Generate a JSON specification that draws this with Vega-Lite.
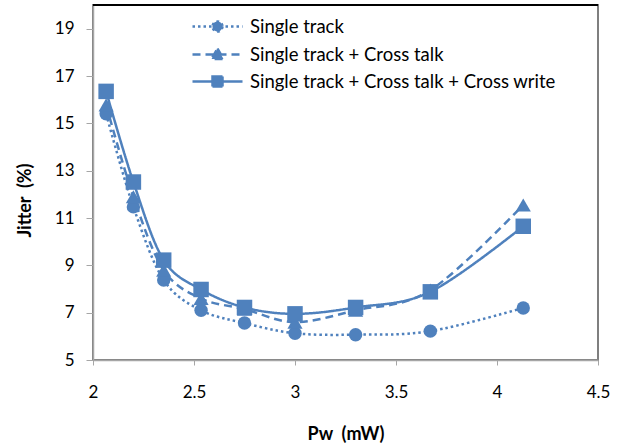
{
  "$schema": "https://vega.github.io/schema/vega-lite/v6.json",
  "width": 505,
  "height": 355,
  "autosize": {"type": "none"},
  "padding": {"left": 93, "top": 5, "right": 21, "bottom": 88},
  "background": "white",
  "config": {
    "font": "Lato",
    "view": {"stroke": "#7f7f7f", "strokeWidth": 2},
    "axis": {
      "grid": false,
      "domainColor": "#a6a6a6",
      "domainWidth": 1.5,
      "tickColor": "#a6a6a6",
      "labelColor": "#000000",
      "titleColor": "#000000",
      "labelFontSize": 17,
      "titleFontSize": 18,
      "titleFontWeight": "bold",
      "labelFlush": false,
      "labelOverlap": false
    }
  },
  "data": {
    "values": [
      {"Pw": 2.065, "Jitter": 15.4, "series": "Single track"},
      {"Pw": 2.2, "Jitter": 11.47, "series": "Single track"},
      {"Pw": 2.35, "Jitter": 8.38, "series": "Single track"},
      {"Pw": 2.535, "Jitter": 7.1, "series": "Single track"},
      {"Pw": 2.75, "Jitter": 6.56, "series": "Single track"},
      {"Pw": 3.0, "Jitter": 6.13, "series": "Single track"},
      {"Pw": 3.3, "Jitter": 6.07, "series": "Single track"},
      {"Pw": 3.67, "Jitter": 6.22, "series": "Single track"},
      {"Pw": 4.13, "Jitter": 7.2, "series": "Single track"},
      {"Pw": 2.065, "Jitter": 15.78, "series": "Single track + Cross talk"},
      {"Pw": 2.2, "Jitter": 11.9, "series": "Single track + Cross talk"},
      {"Pw": 2.35, "Jitter": 8.8, "series": "Single track + Cross talk"},
      {"Pw": 2.535, "Jitter": 7.6, "series": "Single track + Cross talk"},
      {"Pw": 2.75, "Jitter": 7.15, "series": "Single track + Cross talk"},
      {"Pw": 3.0, "Jitter": 6.6, "series": "Single track + Cross talk"},
      {"Pw": 3.3, "Jitter": 7.1, "series": "Single track + Cross talk"},
      {"Pw": 3.67, "Jitter": 7.95, "series": "Single track + Cross talk"},
      {"Pw": 4.13, "Jitter": 11.55, "series": "Single track + Cross talk"},
      {"Pw": 2.065, "Jitter": 16.35, "series": "Single track + Cross talk + Cross write"},
      {"Pw": 2.2, "Jitter": 12.52, "series": "Single track + Cross talk + Cross write"},
      {"Pw": 2.35, "Jitter": 9.22, "series": "Single track + Cross talk + Cross write"},
      {"Pw": 2.535, "Jitter": 7.98, "series": "Single track + Cross talk + Cross write"},
      {"Pw": 2.75, "Jitter": 7.22, "series": "Single track + Cross talk + Cross write"},
      {"Pw": 3.0, "Jitter": 6.95, "series": "Single track + Cross talk + Cross write"},
      {"Pw": 3.3, "Jitter": 7.22, "series": "Single track + Cross talk + Cross write"},
      {"Pw": 3.67, "Jitter": 7.88, "series": "Single track + Cross talk + Cross write"},
      {"Pw": 4.13, "Jitter": 10.65, "series": "Single track + Cross talk + Cross write"}
    ]
  },
  "layer": [
    {
      "mark": {"type": "rule", "color": "#000000", "strokeWidth": 1.5},
      "encoding": {
        "y": {
          "datum": 20, "type": "quantitative",
          "scale": {"domain": [5, 20], "nice": false, "zero": false},
          "axis": {"values": [5, 7, 9, 11, 13, 15, 17, 19], "tickSize": 7, "labelPadding": 12, "title": "Jitter\u00a0 (%)", "titleAngle": -90, "titleX": -68, "titleY": 195, "titleBaseline": "middle", "titleAlign": "center"}
        }
      }
    },
    {
      "encoding": {
        "x": {
          "field": "Pw", "type": "quantitative",
          "scale": {"domain": [2, 4.5], "nice": false, "zero": false},
          "axis": {"values": [2, 2.5, 3, 3.5, 4, 4.5], "format": "~g", "tickSize": 5, "labelPadding": 19, "title": "Pw\u00a0 (mW)", "titlePadding": 25}
        },
        "y": {
          "field": "Jitter", "type": "quantitative",
          "scale": {"domain": [5, 20], "nice": false, "zero": false},
          "axis": {"values": [5, 7, 9, 11, 13, 15, 17, 19], "tickSize": 7, "labelPadding": 12, "title": "Jitter\u00a0 (%)", "titleAngle": -90, "titleX": -68, "titleY": 195, "titleBaseline": "middle", "titleAlign": "center"}
        }
      },
      "layer": [
        {
          "mark": {"type": "line", "interpolate": "cardinal", "strokeWidth": 2.5, "color": "#4F81BD"},
          "encoding": {
            "strokeDash": {
              "field": "series", "type": "nominal",
              "scale": {"domain": ["Single track", "Single track + Cross talk", "Single track + Cross talk + Cross write"], "range": [[2.5, 3], [8, 5], [1, 0]]},
              "legend": {
                "orient": "none", "legendX": 113, "legendY": 10, "title": null,
                "symbolSize": 400, "labelFontSize": 18.5, "labelOffset": 21, "rowPadding": 6,
                "labelLimit": 0, "labelColor": "#000000", "symbolStrokeWidth": 2.5,
                "symbolStrokeColor": "#4F81BD", "symbolFillColor": "#4F81BD",
                "encode": {
                  "symbols": {
                    "update": {
                      "shape": {"signal": "datum.value === 'Single track' ? 'M-2.5,0H2.5M0.5,0A0.5,0.5 0 1,1 -0.5,0A0.5,0.5 0 1,1 0.5,0Z' : (datum.value === 'Single track + Cross talk' ? 'M-2.5,0H2.5M0,-0.6L0.6,0.45L-0.6,0.45Z' : 'M-2.5,0H2.5M-0.5,-0.5H0.5V0.5H-0.5Z')"},
                      "fill": {"value": "#4F81BD"},
                      "stroke": {"value": "#4F81BD"}
                    }
                  }
                }
              }
            }
          }
        },
        {
          "transform": [{"filter": "datum.series === 'Single track'"}],
          "mark": {"type": "point", "filled": true, "opacity": 1, "color": "#4F81BD", "shape": "circle", "size": 180}
        },
        {
          "transform": [{"filter": "datum.series === 'Single track + Cross talk'"}],
          "mark": {"type": "point", "filled": true, "opacity": 1, "color": "#4F81BD", "shape": "triangle-up", "size": 230}
        },
        {
          "transform": [{"filter": "datum.series === 'Single track + Cross talk + Cross write'"}],
          "mark": {"type": "point", "filled": true, "opacity": 1, "color": "#4F81BD", "shape": "square", "size": 240}
        }
      ]
    }
  ]
}
